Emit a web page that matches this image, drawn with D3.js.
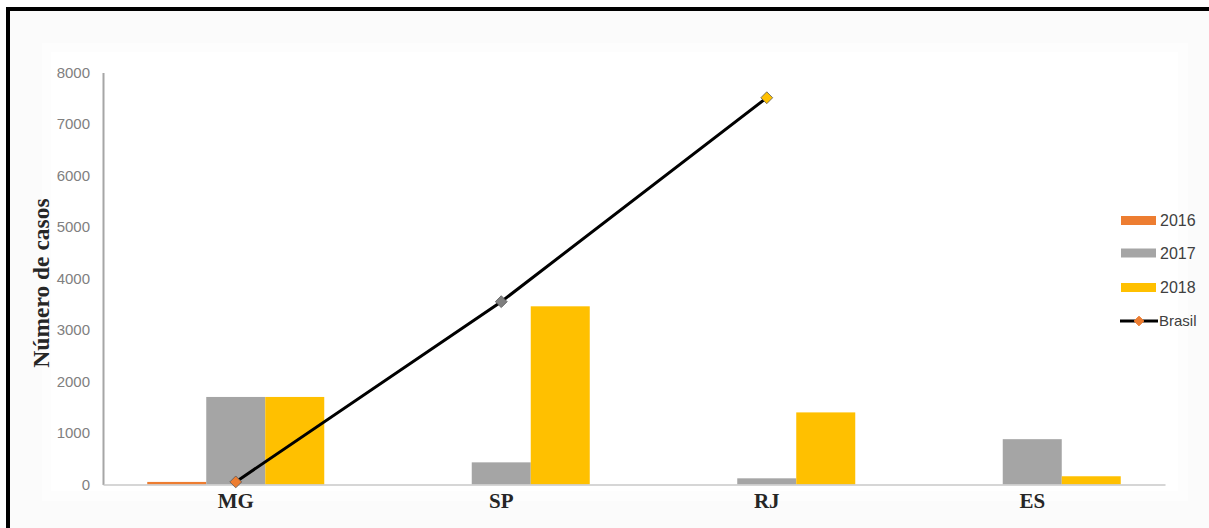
<!DOCTYPE html>
<html>
<head>
<meta charset="utf-8">
<script src="https://cdn.jsdelivr.net/npm/d3@7"></script>
<style>
html,body{margin:0;padding:0;background:#fff;}
svg{display:block;}
</style>
</head>
<body>
<svg id="chart" width="1209" height="528"></svg>
<script>
const categories = ["MG", "SP", "RJ", "ES"];
const seriesNames = ["2016", "2017", "2018"];
const values2016 = [50, 0, 0, 0];
const values2017 = [1700, 430, 120, 880];
const values2018 = [1700, 3460, 1400, 160];
const brasilValues = [50, 3550, 7510, null];
const yTicks = [0, 1000, 2000, 3000, 4000, 5000, 6000, 7000, 8000];
const seriesColors = ["#ED7D31", "#A5A5A5", "#FFC000"];
const markerColors = ["#ED7D31", "#7F7F7F", "#FFC000", "#FFC000"];

const seriesValues = [values2016, values2017, values2018];

const svg = d3.select("#chart");

// background / frame
svg.append("rect").attr("x", 0).attr("y", 0).attr("width", 1209).attr("height", 528).attr("fill", "#fff");
svg.append("rect").attr("x", 10).attr("y", 11).attr("width", 1199).attr("height", 517).attr("fill", "#fbfbfb");
svg.append("rect").attr("x", 42).attr("y", 43).attr("width", 1146).attr("height", 458).attr("fill", "#fdfdfd");
svg.append("rect").attr("x", 51).attr("y", 52).attr("width", 1127).attr("height", 439).attr("fill", "#fff");
svg.append("rect").attr("x", 6).attr("y", 7).attr("width", 1203).attr("height", 4).attr("fill", "#000");
svg.append("rect").attr("x", 6).attr("y", 7).attr("width", 4).attr("height", 521).attr("fill", "#000");

const plotLeft = 103, plotRight = 1165, plotTop = 72.5, plotBottom = 484.5;

const x0 = d3.scaleBand().domain(categories).range([plotLeft, plotRight]).paddingInner(0).paddingOuter(0);
const x1 = d3.scaleBand().domain(seriesNames).range([0, x0.bandwidth()]).paddingInner(0).paddingOuter(0.75);
const y = d3.scaleLinear().domain([0, 8000]).range([plotBottom, plotTop]);

// bars
seriesNames.forEach((s, si) => {
  svg.append("g").selectAll("rect")
    .data(categories.map((c, ci) => ({c, v: seriesValues[si][ci]})))
    .join("rect")
    .attr("x", d => x0(d.c) + x1(s))
    .attr("y", d => y(d.v))
    .attr("width", x1.bandwidth())
    .attr("height", d => plotBottom - y(d.v))
    .attr("fill", seriesColors[si]);
});

// y axis
const yAxis = svg.append("g").attr("transform", `translate(${plotLeft},0)`)
  .call(d3.axisLeft(y).tickValues(yTicks).tickSize(0).tickPadding(13).tickFormat(d3.format("d")));
yAxis.select(".domain").attr("stroke", "#a6a6a6").attr("stroke-width", 2);
yAxis.selectAll("text").attr("font-family", "'Liberation Sans', Arial, sans-serif").attr("font-size", 15).attr("fill", "#808080");

// x axis
const xAxis = svg.append("g").attr("transform", `translate(0,${plotBottom})`)
  .call(d3.axisBottom(x0).tickSize(0).tickPadding(9));
xAxis.select(".domain").attr("stroke", "#c8c8c8").attr("stroke-width", 1.5);
xAxis.selectAll("text").attr("font-family", "'Liberation Serif', 'Times New Roman', serif")
  .attr("font-weight", "bold").attr("font-size", 21).attr("fill", "#262626");

// y title
svg.append("text")
  .attr("transform", `translate(49,283) rotate(-90)`)
  .attr("text-anchor", "middle")
  .attr("font-family", "'Liberation Serif', 'Times New Roman', serif")
  .attr("font-weight", "bold").attr("font-size", 23.5).attr("fill", "#262626")
  .text("Número de casos");

// Brasil line
const cx = c => x0(c) + x0.bandwidth() / 2;
const brasilData = categories.map((c, i) => ({c, v: brasilValues[i], i}));
const line = d3.line().defined(d => d.v != null).x(d => cx(d.c)).y(d => y(d.v));
svg.append("path").datum(brasilData).attr("d", line)
  .attr("fill", "none").attr("stroke", "#000").attr("stroke-width", 3);
const diamond = d3.symbol().type(d3.symbolDiamond2).size(90);
svg.append("g").selectAll("path")
  .data(brasilData.filter(d => d.v != null))
  .join("path")
  .attr("d", diamond)
  .attr("transform", d => `translate(${cx(d.c)},${y(d.v)})`)
  .attr("fill", d => markerColors[d.i])
  .attr("stroke", "#595959").attr("stroke-width", 0.8);

// legend
const lg = svg.append("g");
const legendY = [220.5, 253, 287.5];
seriesNames.forEach((s, i) => {
  lg.append("rect").attr("x", 1121).attr("y", legendY[i] - 4.5).attr("width", 35).attr("height", 9).attr("fill", seriesColors[i]);
  lg.append("text").attr("x", 1160).attr("y", legendY[i]).attr("dy", "0.35em")
    .attr("font-family", "'Liberation Sans', Arial, sans-serif").attr("font-size", 16).attr("fill", "#404040").text(s);
});
lg.append("line").attr("x1", 1120).attr("x2", 1158).attr("y1", 321).attr("y2", 321).attr("stroke", "#000").attr("stroke-width", 3);
lg.append("path").attr("d", d3.symbol().type(d3.symbolDiamond2).size(60)).attr("transform", "translate(1139,321)")
  .attr("fill", "#ED7D31").attr("stroke", "#ED7D31");
lg.append("text").attr("x", 1159).attr("y", 321).attr("dy", "0.35em")
  .attr("font-family", "'Liberation Sans', Arial, sans-serif").attr("font-size", 15).attr("fill", "#404040").text("Brasil");
</script>
</body>
</html>
